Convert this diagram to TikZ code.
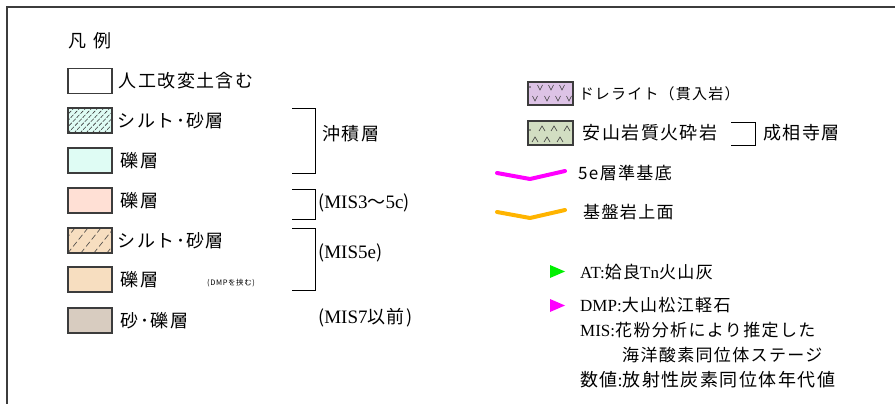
\documentclass[tikz,border=0pt]{standalone}
\usepackage{fontspec}
\setmainfont{Noto Sans CJK JP}[LetterSpace=8]
\newfontfamily\lat{Liberation Serif}
\usetikzlibrary{positioning}
\definecolor{edge}{HTML}{3C3C3C}
\definecolor{mint}{HTML}{DFFCF4}
\definecolor{blush}{HTML}{FFE0D5}
\definecolor{peach}{HTML}{F7DEC0}
\definecolor{taupe}{HTML}{D8CCC0}
\definecolor{lilac}{HTML}{DDC3E6}
\definecolor{sage}{HTML}{D2DEC2}
\definecolor{pinkline}{HTML}{FF00FF}
\definecolor{goldline}{HTML}{FFB400}
\definecolor{tgreen}{HTML}{00F000}

\begin{document}
\begin{tikzpicture}[x=1pt,y=-1pt,
  swatch/.style={rectangle,draw=edge,line width=1.1pt,minimum width=44pt,minimum height=25pt,inner sep=0pt},
  lbl/.style={inner sep=0pt,font=\fontsize{18}{18}\selectfont},
  sublbl/.style={inner sep=0pt,font=\fontsize{17}{17}\selectfont},
  hatch/.style={edge,line width=0.6pt},
  bracket/.style={black,line width=0.9pt},
  horizon/.style={line width=4pt,line join=round,line cap=round}]
\useasboundingbox (0,0) rectangle (895,404);
% frame
\draw[edge,line width=1.6pt] (7,404) -- (7,7) -- (895,7);
\node[lbl,anchor=west] (title) at (68,41) {凡\hspace{7pt}例};

% left column swatches
\node[swatch,fill=white] (b1) at (90,81) {};
\node[swatch,fill=mint] (b2) at (90,120.5) {};
\node[swatch,fill=mint] (b3) at (90,160.5) {};
\node[swatch,fill=blush] (b4) at (90,200.5) {};
\node[swatch,fill=peach] (b5) at (90,240.5) {};
\node[swatch,fill=peach] (b6) at (90,279.5) {};
\node[swatch,fill=taupe] (b7) at (90,320.5) {};
% hatching
\begin{scope}
  \clip ([shift={(1,-1)}]b2.south west) rectangle ([shift={(-1,1)}]b2.north east);
  \foreach \k in {-4,...,7}
    \draw[hatch,dash pattern=on 4pt off 1.5pt] ([xshift={\k*6pt}]b2.south west) -- ++(24,-25);
\end{scope}
\begin{scope}
  \clip ([shift={(1,-1)}]b5.south west) rectangle ([shift={(-1,1)}]b5.north east);
  \foreach \k in {-2,...,3}
    \draw[hatch,dash pattern=on 6pt off 3pt] ([xshift={\k*13pt}]b5.south west) -- ++(20,-25);
\end{scope}

\node[lbl,right=6pt of b1] (t1) {人工改変土含む};
\node[lbl,right=5pt of b2] (t2) {シルト･砂層};
\node[lbl,right=8pt of b3] (t3) {礫層};
\node[lbl,right=8pt of b4] (t4) {礫層};
\node[lbl,right=5pt of b5] (t5) {シルト･砂層};
\node[lbl,right=8pt of b6] (t6) {礫層};
\node[inner sep=0pt,font=\fontsize{7.5}{7.5}\selectfont,anchor=west] (t6s) at (207,283) {(DMPを挟む)};
\node[lbl,right=8pt of b7] (t7) {砂･礫層};

% brackets
\draw[bracket] (292,108) -- (315,108) -- (315,173) -- (292,173);
\draw[bracket] (292,189) -- (315,189) -- (315,219) -- (292,219);
\draw[bracket] (292,228) -- (315,228) -- (315,290) -- (292,290);
\node[lbl,anchor=west] (g1) at (322,134) {沖積層};
\node[lbl,anchor=west] (g2) at (318,203) {({\lat\fontsize{19}{19}\selectfont MIS3}～{\lat\fontsize{19}{19}\selectfont 5c})};
\node[lbl,anchor=west] (g3) at (318,253) {({\lat\fontsize{19}{19}\selectfont MIS5e})};
\node[lbl,anchor=west] (g4) at (318,318) {({\lat\fontsize{19}{19}\selectfont MIS7}以前)};

% right column
\node[swatch,fill=lilac,minimum width=45pt,minimum height=23pt] (b8) at (550.5,93.5) {};
\node[swatch,fill=sage,minimum width=45pt,minimum height=24pt] (b9) at (550.5,133) {};
\foreach \x in {540,551,562}
  \draw[hatch] (\x-2.5,85) -- (\x,90) -- (\x+2.5,85);
\foreach \x in {535,547,558,569}
  \draw[hatch] (\x-2.5,96) -- (\x,101) -- (\x+2.5,96);
\fill[edge] (530,87) circle (0.8);
\foreach \x in {542,554,567}
  \draw[hatch] (\x-3,131) -- (\x,126) -- (\x+3,131);
\foreach \x in {535,547,560}
  \draw[hatch] (\x-3,142) -- (\x,137) -- (\x+3,142);
\fill[edge] (530,130) circle (0.8);
\node[inner sep=0pt,font=\fontsize{15}{15}\selectfont,right=5pt of b8] (t8) {ドレライト（貫入岩）};
\node[lbl,right=9pt of b9] (t9) {安山岩質火砕岩};
\draw[bracket] (731,122) -- (755,122) -- (755,145) -- (731,145);
\node[lbl,anchor=west] (t10) at (763,133) {成相寺層};

% horizons
\coordinate (p0) at (497,173);
\coordinate (p1) at (530,179);
\coordinate (p2) at (565,171);
\draw[horizon,pinkline] (p0) -- (p1) -- (p2);
\node[sublbl,anchor=west] (h1) at (578,173) {5e層準基底};
\coordinate (q0) at (497,212);
\coordinate (q1) at (530,218);
\coordinate (q2) at (565,210);
\draw[horizon,goldline] (q0) -- (q1) -- (q2);
\node[sublbl,anchor=west] (h2) at (583,212) {基盤岩上面};

% markers and notes
\fill[tgreen] (550,265) -- (565,271.5) -- (550,278) -- cycle;
\node[sublbl,anchor=west] (n1) at (580,272) {{\lat AT:}姶良{\lat Tn}火山灰};
\fill[pinkline] (550,299) -- (565,305.5) -- (550,312) -- cycle;
\node[sublbl,anchor=west] (n2) at (580,305) {{\lat DMP:}大山松江軽石};
\node[sublbl,anchor=west] (n3) at (580,330) {{\lat MIS:}花粉分析により推定した};
\node[sublbl,anchor=west] (n4) at (622,355) {海洋酸素同位体ステージ};
\node[lbl,anchor=west] (n5) at (580,380) {数値{\lat :}放射性炭素同位体年代値};
\end{tikzpicture}
\end{document}
